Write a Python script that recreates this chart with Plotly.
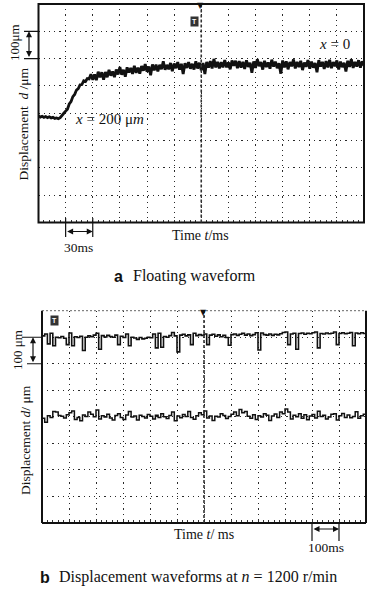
import plotly.graph_objects as go

W, H = 376, 591
SERIF = "Liberation Serif"
SANS = "Liberation Sans"


def px(x):
    return x / W


def py(y):
    return 1 - y / H


# ---------------- data ----------------
# (a) floating waveform: time in ms (12 div x 30 ms), displacement in um (8 div x 100 um)
top_time_ms = list(range(0, 362, 2))
top_disp_um = [
    390, 386, 389, 385, 388, 384, 387, 383, 385, 381, 383, 380, 384,
    394, 400, 408, 415, 434, 443, 461, 469, 485, 490, 504, 505, 519, 516, 527, 526,
    543, 522, 542, 521, 552, 532, 550, 523, 551, 532,
    559, 538, 553, 532, 560, 542, 569, 541, 559, 534,
    568, 549, 566, 544, 574, 548, 567, 545, 573, 556,
    580, 552, 571, 539, 579, 557, 578, 553, 577, 561,
    590, 559, 577, 561, 584, 554, 582, 565, 587, 560,
    581, 544, 583, 566, 587, 563, 581, 560, 590, 564,
    585, 558, 584, 544, 588, 567, 591, 564, 599, 568,
    588, 564, 587, 568, 595, 568, 586, 561, 593, 574,
    592, 565,
    591, 567, 588, 562, 594, 570, 585, 548, 590, 566,
    598, 572, 587, 560, 592, 569, 586, 563, 596, 571,
    589, 565, 583, 545, 593, 568, 590, 561, 587, 572,
    597, 564, 588, 569, 592, 558, 586, 570, 595, 563,
    589, 567, 584, 550, 594, 571, 588, 562, 591, 568,
    596, 565, 587, 572, 593, 560, 589, 569, 585, 553,
    592, 570, 598, 566, 588, 571, 594, 567, 590, 575,
]

# (b) waveforms at n = 1200 r/min: time in ms (12 div x 100 ms)
bot_time_ms = list(range(0, 1210, 10))
bot_upper_um = [
    705, 712, 675, 715, 668, 700, 698, 703, 696, 672,
    716, 668, 702, 699, 704, 650, 700, 705, 702, 708,
    715, 655, 706, 701, 707, 703, 700, 708, 672, 704,
    699, 712, 668, 700, 697, 692, 699, 694, 696, 700,
    698, 712, 660, 715, 662, 703, 700, 706, 718, 705,
    645, 708, 711, 705, 709, 672, 715, 706, 710, 707,
    712, 672, 708, 711, 704, 709, 702, 707, 699, 670,
    710, 712, 707, 711, 715, 708, 712, 706, 710, 717,
    652, 716, 710, 708, 712, 707, 711, 709, 713, 718,
    720, 672, 712, 715, 655, 714, 716, 711, 715, 713,
    717, 720, 660, 714, 712, 716, 713, 715, 720, 672,
    714, 717, 713, 715, 718, 668, 716, 713, 717, 714,
    716,
]
bot_lower_um = [
    395, 380, 404, 398, 420, 418, 405, 402, 396, 408,
    415, 422, 390, 398, 385, 407, 401, 418, 410, 400,
    426, 392, 404, 399, 410, 396, 388, 405, 412, 398,
    390, 407, 420, 399, 403, 388, 406, 401, 396, 409,
    402, 392, 406, 398, 412, 400, 394, 405, 418, 385,
    403, 397, 409, 401, 420, 398, 391, 404, 415, 408,
    422, 396, 403, 386, 402, 399, 412, 405, 394, 401,
    410, 418, 404, 428, 415, 420, 402, 395, 408, 390,
    404, 399, 412, 406, 386, 403, 411, 398, 418, 412,
    430, 418, 392, 406, 400, 412, 395, 408, 389, 403,
    409, 396, 421, 401, 406, 392, 399, 410, 412, 388,
    404, 413, 398, 407, 397, 401, 419, 395, 404, 410,
    402,
]

TOP_X_RANGE = [0, 360]
TOP_X_DIV = 30
BOT_X_RANGE = [0, 1200]
BOT_X_DIV = 100
Y_RANGE = [0, 800]
Y_DIV = 100

# ---------------- figure ----------------
fig = go.Figure()
fig.add_trace(go.Scatter(x=top_time_ms, y=top_disp_um, xaxis="x", yaxis="y", mode="lines",
                         line=dict(color="#111111", width=2.8), hoverinfo="skip", showlegend=False))
fig.add_trace(go.Scatter(x=bot_time_ms, y=bot_upper_um, xaxis="x2", yaxis="y2", mode="lines",
                         line=dict(color="#111111", width=1.6, shape="hv"), hoverinfo="skip", showlegend=False))
fig.add_trace(go.Scatter(x=bot_time_ms, y=bot_lower_um, xaxis="x2", yaxis="y2", mode="lines",
                         line=dict(color="#111111", width=1.5, shape="hv"), hoverinfo="skip", showlegend=False))

grid = dict(showgrid=True, gridcolor="#2a2a2a", gridwidth=1.2, griddash="1.2px,4px",
            zeroline=False, showticklabels=False, showline=False, fixedrange=True)

fig.update_layout(
    width=W, height=H, margin=dict(l=0, r=0, t=0, b=0),
    paper_bgcolor="white", plot_bgcolor="white", showlegend=False,
    xaxis=dict(domain=[px(38.5), px(364)], range=TOP_X_RANGE, dtick=TOP_X_DIV, tick0=0, anchor="y",
               ticks="inside", ticklen=3, tickcolor="#333",
               minor=dict(ticks="inside", ticklen=3, dtick=TOP_X_DIV / 5, tickcolor="#333", showgrid=False), **grid),
    yaxis=dict(domain=[py(222.5), py(4)], range=Y_RANGE, dtick=Y_DIV, tick0=0, anchor="x", ticks="", **grid),
    xaxis2=dict(domain=[px(42), px(366)], range=BOT_X_RANGE, dtick=BOT_X_DIV, tick0=0, anchor="y2",
                ticks="inside", ticklen=3, tickcolor="#333",
                minor=dict(ticks="inside", ticklen=3, dtick=BOT_X_DIV / 5, tickcolor="#333", showgrid=False), **grid),
    yaxis2=dict(domain=[py(523), py(310.7)], range=Y_RANGE, dtick=Y_DIV, tick0=0, anchor="x2", ticks="", **grid),
)

shapes = []
# frames
shapes.append(dict(type="rect", xref="x domain", yref="y domain", x0=0, x1=1, y0=0, y1=1,
                   line=dict(color="#111", width=2)))
for (x0, x1, y0, y1) in [(0, 0, 0, 1), (1, 1, 0, 1), (0, 1, 0, 0)]:
    shapes.append(dict(type="line", xref="x2 domain", yref="y2 domain", x0=x0, x1=x1, y0=y0, y1=y1,
                       line=dict(color="#111", width=2)))
shapes.append(dict(type="line", xref="x2 domain", yref="y2 domain", x0=0, x1=1, y0=1, y1=1,
                   line=dict(color="#666", width=1, dash="2px,2px")))
# center (trigger) lines
shapes.append(dict(type="line", xref="x", yref="y domain", x0=180, x1=180, y0=0, y1=1,
                   line=dict(color="#333", width=1.6, dash="3px,2px")))
shapes.append(dict(type="line", xref="x2", yref="y2 domain", x0=600, x1=600, y0=0, y1=1,
                   line=dict(color="#333", width=1.6, dash="3px,2px")))
# 100 um scale marks
for yv in (700, 600):
    shapes.append(dict(type="line", xref="paper", yref="y", x0=px(24), x1=px(38.5), y0=yv, y1=yv,
                       line=dict(color="#111", width=1.2)))
shapes.append(dict(type="line", xref="paper", yref="y2", x0=px(22), x1=px(42), y0=700, y1=700,
                   line=dict(color="#111", width=1.2)))
shapes.append(dict(type="line", xref="paper", yref="y2", x0=px(27), x1=px(42), y0=600, y1=600,
                   line=dict(color="#111", width=1.2)))
# time scale marks
for xv in (30, 60):
    shapes.append(dict(type="line", xref="x", yref="paper", x0=xv, x1=xv, y0=py(218), y1=py(237),
                       line=dict(color="#111", width=1.2)))
for xv in (1000, 1100):
    shapes.append(dict(type="line", xref="x2", yref="paper", x0=xv, x1=xv, y0=py(522), y1=py(541),
                       line=dict(color="#111", width=1.2)))
fig.update_layout(shapes=shapes)


def txt(x, y, s, size=14, angle=0, xanchor="center", family=SERIF, color="#111"):
    return dict(x=px(x), y=py(y), xref="paper", yref="paper", text=s, showarrow=False,
                font=dict(family=family, size=size, color=color), textangle=angle,
                xanchor=xanchor, yanchor="middle")


def darrow(**kw):
    d = dict(text="", showarrow=True, arrowhead=2, startarrowhead=2, arrowside="end+start",
             arrowsize=1, arrowwidth=1.2, arrowcolor="#111", standoff=0, startstandoff=0)
    d.update(kw)
    return d


NB = "\u00a0"
ann = [
    # panel a
    txt(15, 43, "100μm", size=13, angle=-90),
    txt(22.5, 124, "Displacement" + NB + NB + "<i>d</i>" + NB + "/μm", size=13.5, angle=-90),
    txt(201, 235.5, "Time <i>t</i>/ms", size=14),
    txt(78, 247, "30ms", size=13.5),
    txt(118, 276, "<b>a</b>", size=16, family=SANS),
    txt(131, 276, "Floating waveform", size=16, xanchor="left"),
    txt(334, 44, "<i>x</i> = 0", size=15),
    txt(109, 119, "<i>x</i> = 200 μ<i>m</i>", size=15),
    txt(200, 5.5, "▼", size=8, family="DejaVu Sans"),
    dict(x=px(195), y=py(16), xref="paper", yref="paper", text="<b>T</b>", showarrow=False,
         font=dict(family=SANS, size=7, color="white"), bgcolor="#333", borderpad=1),
    # panel b
    txt(17, 350, "100 μm", size=13, angle=-90),
    txt(25, 440, "Displacement <i>d</i>/" + NB + "μm", size=13.5, angle=-90),
    txt(204, 534, "Time <i>t</i>/ ms", size=14),
    txt(326, 547, "100ms", size=13.5),
    txt(45, 577, "<b>b</b>", size=16, family=SANS),
    txt(57, 577, "Displacement waveforms at <i>n</i> = 1200 r/min", size=16, xanchor="left"),
    txt(204, 312, "▼", size=8, family="DejaVu Sans"),
    dict(x=px(50), y=py(320), xref="paper", yref="paper", text="<b>T</b>", showarrow=False,
         font=dict(family=SANS, size=7, color="white"), bgcolor="#333", borderpad=1),
    # double arrows
    darrow(xref="paper", yref="y", x=px(29), y=700, ax=0, ay=27.3),
    darrow(xref="paper", yref="y2", x=px(33), y=700, ax=0, ay=26.5),
    darrow(xref="x", yref="paper", x=60, y=py(231.5), axref="x", ax=30, ay=0),
    darrow(xref="x2", yref="paper", x=1100, y=py(529), axref="x2", ax=1000, ay=0),
]
fig.update_layout(annotations=ann)

fig.write_html("out.html", config={"displayModeBar": False},
               post_script="document.body.style.margin='0';document.body.style.overflow='hidden';")
